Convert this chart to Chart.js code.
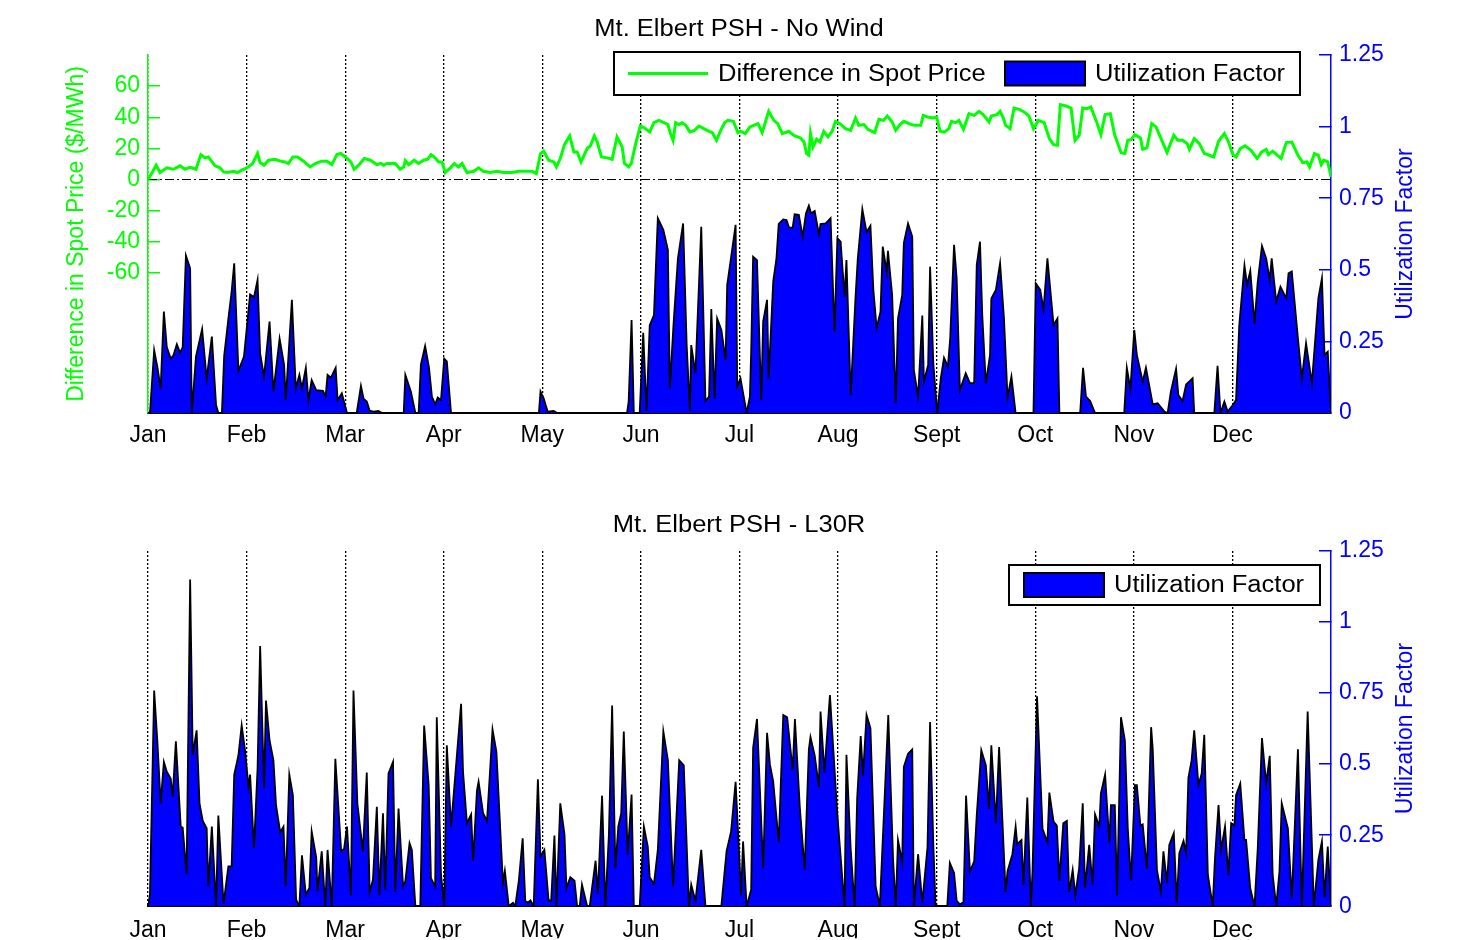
<!DOCTYPE html>
<html>
<head>
<meta charset="utf-8">
<script src="https://cdn.jsdelivr.net/npm/chart.js@4.4.1/dist/chart.umd.min.js"></script>
<style>
    html, body { margin: 0; padding: 0; background: #fff; }
    body { width: 1479px; height: 940px; position: relative; overflow: hidden; }
    .panel { position: absolute; left: 0; width: 1479px; height: 470px; }
    #topPanel { top: 0; }
    #bottomPanel { top: 470px; }
</style>
</head>
<body>
<div class="panel" id="topPanel"><canvas id="topChart" width="1479" height="470"></canvas></div>
<div class="panel" id="bottomPanel"><canvas id="bottomChart" width="1479" height="470"></canvas></div>
<script>
// Axis labels / ticks
const months = ['Jan', 'Feb', 'Mar', 'Apr', 'May', 'Jun', 'Jul', 'Aug', 'Sept', 'Oct', 'Nov', 'Dec'];
const daysInYear = 365;
const priceTicks = [-60, -40, -20, 0, 20, 40, 60];
const ufTicks = [0, 0.25, 0.5, 0.75, 1, 1.25];

// Mt. Elbert PSH - No Wind : utilization factor, [day of year, value]
const noWindUtilization = [
    [0, 0], [0.6, 0], [1.9, 0.22], [2.9, 0.16], [3.9, 0.086], [4.9, 0.354], [5.8, 0.23], [7.0, 0.19], [7.8, 0.2],
    [8.9, 0.24], [9.9, 0.21], [10.7, 0.23], [11.7, 0.55], [13.0, 0.505], [13.5, 0], [14.8, 0.197], [16.7, 0.293],
    [18.1, 0.12], [19.7, 0.267], [21.0, 0.028], [21.7, 0], [22.8, 0], [23.5, 0.2], [24.8, 0.33], [25.8, 0.424],
    [26.6, 0.523], [27.9, 0.147], [29.6, 0.197], [31.5, 0.414], [32.7, 0.404], [33.8, 0.464], [34.6, 0.208],
    [35.8, 0.127], [37.5, 0.319], [38.7, 0.075], [40.6, 0.26], [42.0, 0.168], [42.5, 0.045], [44.4, 0.395],
    [45.6, 0.086], [46.7, 0.133], [47.5, 0.086], [48.7, 0.158], [49.5, 0.045], [50.5, 0.115], [51.9, 0.08],
    [54.0, 0.077], [54.8, 0.057], [55.4, 0.133], [56.4, 0.123], [57.9, 0.158], [58.5, 0.045], [59.8, 0.069],
    [61.4, 0], [64.4, 0], [65.7, 0.095], [66.5, 0.05], [67.5, 0.04], [68.4, 0.008], [69.6, 0.005], [71.1, 0.007],
    [72.2, 0], [78.9, 0], [79.4, 0.133], [81.1, 0.075], [82.5, 0], [83.5, 0], [84.2, 0.17], [85.5, 0.234],
    [86.7, 0.158], [87.6, 0.057], [88.6, 0.03], [89.4, 0.054], [90.4, 0.045], [91.4, 0.19], [92.2, 0.18], [93.5, 0],
    [120.6, 0], [121.1, 0.075], [122.1, 0.05], [123.3, 0.005], [125.2, 0.007], [126.2, 0], [147.8, 0], [148.3, 0.04],
    [149.2, 0.325], [149.9, 0], [151.7, 0], [152.8, 0.28], [153.8, 0.007], [154.8, 0.307], [156.1, 0.342],
    [157.3, 0.68], [159.0, 0.64], [160.4, 0.57], [161.0, 0.086], [162.2, 0.32], [163.5, 0.54], [165.1, 0.662],
    [166.2, 0.237], [167.2, 0.007], [167.6, 0.237], [168.9, 0.139], [170.7, 0.65], [172.0, 0.042], [173.1, 0.057],
    [173.8, 0.363], [174.8, 0.05], [175.6, 0.33], [176.9, 0.29], [178.2, 0.185], [178.7, 0.447], [181.3, 0.657],
    [181.8, 0.092], [182.8, 0.121], [184.7, 0], [185.7, 0.057], [186.1, 0.214], [186.7, 0.546], [187.9, 0.534],
    [189.2, 0.045], [189.8, 0.319], [191.0, 0.395], [191.5, 0.121], [192.9, 0.459], [193.9, 0.54], [194.6, 0.66],
    [196.0, 0.676], [197.0, 0.674], [197.8, 0.647], [198.9, 0.647], [199.5, 0.694], [200.8, 0.692], [202.0, 0.616],
    [203.0, 0.697], [203.9, 0.724], [204.6, 0.697], [205.7, 0.705], [207.0, 0.624], [207.5, 0.66], [209.1, 0.662],
    [210.6, 0.68], [211.8, 0.284], [212.7, 0.61], [213.7, 0.598], [214.9, 0.406], [215.5, 0.534], [216.8, 0.063],
    [218.3, 0.406], [219.0, 0.54], [220.4, 0.712], [221.7, 0.631], [222.9, 0.654], [223.8, 0.43], [224.8, 0.298],
    [226.0, 0.354], [226.7, 0.581], [227.9, 0.494], [228.3, 0.566], [229.6, 0.412], [230.7, 0.034], [231.4, 0.33],
    [232.7, 0.412], [233.2, 0.593], [234.5, 0.662], [235.8, 0.616], [236.3, 0.15], [237.6, 0.057], [238.9, 0.34],
    [239.4, 0.109], [240.7, 0.168], [241.3, 0.511], [242.3, 0.173], [243.5, 0], [244.6, 0.121], [245.6, 0.193],
    [246.8, 0.162], [247.5, 0.26], [248.7, 0.587], [249.5, 0.47], [250.5, 0.08], [252.3, 0.139], [253.6, 0.104],
    [254.9, 0.104], [255.7, 0.517], [256.7, 0.598], [257.4, 0.342], [258.5, 0.104], [259.8, 0.203], [260.2, 0.4],
    [261.6, 0.43], [262.9, 0.523], [264.1, 0.33], [265.2, 0.054], [266.4, 0.127], [267.7, 0], [273.2, 0],
    [273.9, 0.453], [275.3, 0.43], [276.3, 0.36], [277.5, 0.54], [279.4, 0.307], [280.6, 0.33], [281.2, 0],
    [287.6, 0], [288.5, 0.158], [289.4, 0.057], [290.7, 0.042], [292.2, 0], [301.2, 0], [302.0, 0.158],
    [303.1, 0.084], [304.3, 0.29], [305.1, 0.203], [306.9, 0.109], [307.9, 0.158], [310.0, 0.03], [311.5, 0.034],
    [312.8, 0.016], [313.6, 0.005], [314.6, 0], [315.6, 0.075], [317.2, 0.154], [317.9, 0.063], [319.2, 0.042],
    [320.3, 0.1], [322.3, 0.121], [322.8, 0], [329.0, 0], [330.0, 0.165], [330.9, 0], [332.1, 0.04], [333.1, 0.005],
    [334.7, 0.028], [335.7, 0.045], [336.7, 0.307], [338.3, 0.515], [339.1, 0.447], [340.1, 0.496], [341.4, 0.313],
    [342.4, 0.459], [343.7, 0.584], [345.0, 0.54], [346.1, 0.464], [346.7, 0.54], [348.1, 0.389], [349.4, 0.441],
    [351.2, 0.4], [351.9, 0.488], [352.9, 0.494], [354.8, 0.26], [356.0, 0.121], [357.3, 0.243], [359.1, 0.104],
    [361.1, 0.4], [362.2, 0.47], [363.0, 0.203], [364.0, 0.214], [365, 0]
];

// Difference in spot price ($/MWh), [day of year, value]
const spotPriceDiff = [
    [0, 0], [1.1, 3.8], [2.5, 9.2], [3.7, 4.5], [5.8, 7.5], [7.8, 6.6], [9.9, 8.8], [11.4, 6.6], [13.0, 7.9],
    [14.8, 6.6], [16.3, 16], [17.6, 13.9], [18.6, 14.5], [20.7, 8.8], [22.2, 7.5], [23.3, 4.9], [24.5, 4.5],
    [26.4, 5.3], [27.6, 4.5], [28.9, 6.0], [30.5, 7.5], [32.3, 10.3], [33.8, 16.7], [34.6, 10.9], [35.8, 9.2],
    [37.2, 12.4], [39.2, 13.0], [40.8, 11.8], [42.3, 11.3], [43.3, 10.3], [44.7, 14.5], [46.1, 14.5], [48.0, 11.8],
    [50.0, 8.1], [51.6, 10.3], [53.6, 11.8], [55.2, 11.8], [56.7, 9.6], [58.3, 16], [59.5, 16.7], [61.4, 13.5],
    [62.6, 11.3], [63.6, 6.6], [65.0, 9.2], [66.7, 13.5], [68.6, 12.4], [70.6, 9.6], [71.9, 10.3], [72.7, 9.2],
    [73.7, 10.3], [76.3, 10.3], [77.8, 6.6], [78.9, 8.1], [79.4, 12.2], [80.4, 9.6], [82.1, 12.4], [83.5, 10.3],
    [85.0, 12.4], [86.3, 13.0], [87.3, 16], [88.6, 13.9], [89.7, 11.3], [90.7, 11.3], [91.7, 4.5], [93.3, 7.5],
    [94.5, 10.3], [95.8, 8.1], [96.9, 10.3], [98.4, 4.5], [100.5, 5.3], [102.0, 7.5], [103.4, 5.3], [105.6, 4.5],
    [107.7, 5.3], [109.7, 4.5], [112.3, 4.5], [114.4, 5.3], [118.5, 5.3], [119.8, 3.8], [121.1, 16.7], [122.1, 18.2],
    [123.6, 12.4], [125.2, 11.3], [126.0, 8.1], [127.2, 13.5], [128.5, 22.4], [130.1, 28], [131.4, 17.7],
    [132.4, 17.7], [133.6, 11.3], [135.5, 19.9], [136.5, 21.6], [137.7, 28], [138.6, 24.1], [139.9, 14.5],
    [141.7, 13.9], [143.2, 13.0], [144.7, 27.4], [146.3, 20.9], [147.0, 10.3], [148.3, 8.1], [149.1, 10.3],
    [150.4, 22.4], [151.9, 34.4], [153.2, 33.1], [154.8, 30.6], [156.1, 36.5], [157.6, 38], [159.2, 36.5],
    [160.4, 35.3], [161.2, 29.5], [162.0, 25.2], [162.8, 36.5], [163.8, 35.3], [164.8, 36.5], [165.9, 34.8],
    [167.2, 30.6], [168.6, 31.6], [170.0, 34.4], [171.5, 32.7], [172.5, 31.6], [174.1, 30.1], [175.4, 25.2],
    [176.7, 31.6], [177.9, 36.5], [178.9, 38], [180.6, 37.4], [182.0, 30.1], [182.8, 31], [184.3, 29.5],
    [185.7, 33.8], [186.9, 34.8], [188.2, 35.9], [189.5, 30.1], [191.5, 43.8], [193.1, 38], [194.3, 35.9],
    [195.7, 29.5], [197.7, 31], [199.3, 28.4], [201.3, 26.7], [202.4, 24.1], [203.2, 16.7], [203.9, 15.6],
    [204.4, 29.5], [205.2, 20.9], [206.3, 25.9], [207.3, 24.1], [208.5, 31], [209.8, 27.4], [211.1, 31],
    [212.1, 37.4], [213.5, 35.9], [215.2, 32.7], [216.8, 31.6], [218.3, 39.5], [219.3, 34.8], [220.9, 35.3],
    [222.1, 32.3], [224.2, 30.1], [225.5, 38.7], [226.9, 38], [228.1, 40.8], [229.6, 37], [230.7, 31.6],
    [232.0, 35.3], [233.2, 37.4], [234.8, 35.9], [236.3, 34.8], [238.4, 34.8], [239.2, 41.2], [240.5, 40.2],
    [242.3, 39.5], [243.3, 40.2], [244.4, 31], [245.8, 30.6], [247.1, 32.7], [247.9, 37.4], [249.2, 36.5],
    [250.2, 38], [251.6, 32.3], [253.3, 42.3], [254.9, 41.2], [256.4, 43.8], [257.7, 41.7], [259.5, 37],
    [260.2, 40.8], [261.9, 41.7], [262.9, 43.8], [263.9, 39.5], [264.6, 34.8], [266.0, 32.7], [267.2, 45.9],
    [268.8, 45.1], [270.3, 43.4], [271.8, 40.8], [273.2, 32.7], [274.7, 38], [276.5, 36.5], [278.1, 26.3],
    [279.4, 22.4], [280.6, 22], [281.5, 48.1], [283.2, 47.2], [284.8, 45.9], [286.0, 25.2], [287.3, 28.4],
    [288.4, 45.9], [289.7, 45.5], [290.9, 46.6], [292.5, 38], [294.0, 28.8], [295.3, 41.7], [296.9, 42.3],
    [298.3, 28.4], [300.2, 17.3], [301.4, 16.7], [302.3, 25.2], [303.3, 25.6], [304.5, 28.8], [306.2, 26.7],
    [306.9, 19.4], [308.2, 20.3], [309.7, 35.9], [311.0, 33.8], [312.8, 25.2], [314.4, 17.3], [316.5, 28.4],
    [317.7, 25.2], [319.2, 25.2], [320.6, 23.1], [321.3, 19.4], [322.8, 26.3], [324.4, 23.1], [325.9, 16.7],
    [327.5, 15.6], [328.8, 14.5], [330.3, 24.6], [332.1, 29.5], [333.3, 24.6], [334.7, 16], [335.7, 14.5],
    [337.0, 19.9], [338.5, 21.6], [340.3, 18.8], [342.2, 13.5], [343.6, 17.7], [345.0, 19.4], [345.7, 16],
    [347.0, 18.2], [348.4, 15.6], [349.6, 13.5], [351.2, 23.7], [352.9, 24.1], [354.8, 15.6], [356.3, 10.9],
    [357.6, 11.3], [358.4, 8.1], [359.9, 16.7], [361.1, 15.6], [362.0, 9.6], [362.8, 12.4], [364.0, 11.3], [365, 1.7]
];

// Mt. Elbert PSH - L30R : utilization factor, [day of year, value]
const l30rUtilization = [
    [0, 0], [0.6, 0.04], [1.9, 0.759], [2.9, 0.578], [3.9, 0.362], [4.9, 0.508], [5.8, 0.473], [7.0, 0.449],
    [7.6, 0.385], [8.6, 0.58], [10.1, 0.28], [10.7, 0.277], [11.9, 0.113], [13.0, 1.15], [13.8, 0.533], [15.0, 0.619],
    [15.9, 0.362], [16.9, 0.3], [18.1, 0.274], [18.6, 0.07], [19.7, 0.28], [21.0, 0], [21.7, 0.319], [23.3, 0.008],
    [24.8, 0.14], [25.8, 0.14], [26.6, 0.463], [27.9, 0.531], [28.9, 0.636], [30.0, 0.543], [31.0, 0.42],
    [31.5, 0.463], [32.7, 0.204], [33.8, 0.484], [34.6, 0.916], [35.8, 0.414], [36.4, 0.724], [37.5, 0.584],
    [38.7, 0.514], [39.5, 0.356], [40.8, 0.26], [41.8, 0.28], [42.5, 0.07], [43.6, 0.463], [44.7, 0.391],
    [45.7, 0.023], [46.7, 0], [47.5, 0.179], [48.7, 0.041], [49.8, 0.064], [50.5, 0.263], [51.9, 0.172],
    [52.3, 0.053], [53.6, 0.193], [54.7, 0], [55.4, 0.198], [56.7, 0], [57.8, 0.519], [59.6, 0.193], [60.5, 0.202],
    [61.4, 0.28], [62.6, 0.039], [63.4, 0.759], [64.6, 0.362], [66.3, 0.193], [67.5, 0.47], [68.4, 0.05],
    [69.4, 0.093], [70.6, 0.35], [71.4, 0.039], [72.5, 0.327], [73.2, 0.058], [74.2, 0.467], [75.6, 0.508],
    [76.3, 0.05], [77.3, 0.344], [78.7, 0.07], [79.4, 0.088], [80.7, 0.222], [81.4, 0.198], [82.5, 0], [84.0, 0],
    [85.2, 0.636], [86.6, 0.426], [87.3, 0.099], [88.6, 0.07], [89.1, 0.665], [90.4, 0.111], [91.4, 0],
    [92.2, 0.566], [93.5, 0.28], [94.8, 0.461], [96.6, 0.712], [97.2, 0.473], [98.4, 0.292], [99.7, 0.323],
    [100.3, 0.16], [101.5, 0.408], [102.0, 0.438], [103.4, 0.327], [104.6, 0.3], [106.3, 0.622], [107.5, 0.543],
    [109.5, 0.082], [110.1, 0.125], [111.3, 0], [112.6, 0.012], [113.3, 0], [114.4, 0.088], [115.6, 0.239],
    [116.4, 0.018], [117.2, 0.012], [118.0, 0.02], [119.0, 0], [120.3, 0.447], [121.1, 0.175], [122.3, 0.198],
    [123.6, 0.02], [124.4, 0.02], [125.4, 0.249], [126.0, 0], [127.2, 0.362], [128.5, 0.253], [129.1, 0.064],
    [130.3, 0.102], [131.6, 0.09], [132.4, 0], [133.2, 0], [133.9, 0.076], [135.5, 0], [136.3, 0], [137.0, 0.064],
    [138.1, 0.16], [138.8, 0.043], [140.1, 0.389], [141.1, 0], [142.2, 0.251], [143.2, 0.706], [144.2, 0.134],
    [145.1, 0.28], [146.0, 0.327], [146.8, 0.615], [148.0, 0.181], [149.2, 0.393], [149.9, 0], [151.7, 0],
    [153.0, 0.28], [154.2, 0.21], [154.8, 0.102], [156.1, 0.078], [157.3, 0.198], [159.0, 0.615], [160.4, 0.514],
    [162.0, 0.07], [162.8, 0.257], [163.9, 0.514], [165.3, 0.496], [166.9, 0], [167.6, 0.076], [168.9, 0.018],
    [170.7, 0.198], [172.0, 0], [176.9, 0], [178.5, 0.193], [179.9, 0.263], [181.3, 0.438], [183.0, 0.039],
    [183.6, 0.228], [184.7, 0], [186.1, 0.058], [186.7, 0.557], [187.9, 0.659], [189.8, 0.134], [191.0, 0.61],
    [191.9, 0.498], [192.9, 0.438], [194.6, 0.225], [196.0, 0.673], [197.2, 0.665], [198.9, 0.479], [199.6, 0.659],
    [201.1, 0.35], [202.6, 0.128], [203.9, 0.552], [204.4, 0.595], [205.7, 0.531], [207.0, 0.42], [207.5, 0.685],
    [208.7, 0.47], [210.4, 0.743], [212.7, 0.321], [214.9, 0], [215.5, 0.533], [216.8, 0.204], [218.0, 0],
    [218.8, 0.379], [219.9, 0.599], [220.6, 0.459], [221.7, 0.673], [222.9, 0.627], [224.5, 0.07], [225.8, 0],
    [228.4, 0.673], [229.9, 0.16], [230.7, 0], [231.4, 0.233], [232.7, 0.155], [233.2, 0.49], [234.5, 0.537],
    [235.8, 0.552], [236.3, 0], [237.6, 0.183], [238.9, 0.012], [240.5, 0.207], [241.3, 0.648], [242.3, 0.216],
    [243.0, 0], [246.6, 0], [247.4, 0.152], [248.7, 0.117], [249.5, 0.02], [250.5, 0.006], [251.6, 0.015],
    [252.4, 0.389], [253.6, 0.123], [254.9, 0.158], [255.7, 0.321], [257.1, 0.549], [258.5, 0.496], [259.5, 0.342],
    [260.2, 0.566], [261.6, 0.292], [262.6, 0.56], [264.6, 0.05], [265.2, 0.123], [266.7, 0.183], [267.7, 0.28],
    [268.2, 0.218], [269.5, 0.233], [270.1, 0.076], [271.3, 0.382], [272.4, 0], [272.9, 0.123], [274.3, 0.739],
    [276.0, 0.272], [277.5, 0.225], [278.1, 0.4], [279.4, 0.298], [280.4, 0.284], [281.2, 0.09], [282.4, 0.292],
    [283.5, 0.3], [284.2, 0.05], [285.3, 0.128], [286.1, 0.039], [287.3, 0.134], [288.4, 0.362], [289.1, 0.064],
    [290.4, 0.216], [291.4, 0.076], [292.2, 0.323], [293.5, 0.28], [294.0, 0.397], [295.3, 0.463], [296.6, 0.225],
    [297.1, 0.356], [298.3, 0.356], [299.0, 0.039], [300.2, 0.665], [301.4, 0.584], [302.3, 0.274], [303.3, 0.09],
    [304.5, 0.426], [305.1, 0.426], [306.2, 0.284], [306.9, 0.288], [308.2, 0.132], [309.5, 0.63], [310.0, 0.554],
    [311.3, 0.128], [312.5, 0.05], [313.3, 0.193], [314.4, 0.082], [315.1, 0.216], [316.5, 0.257], [317.4, 0.012],
    [318.2, 0.187], [319.5, 0.23], [320.3, 0.187], [321.0, 0.452], [322.0, 0.514], [322.8, 0.619], [324.1, 0.426],
    [325.1, 0.467], [325.9, 0.603], [327.0, 0.111], [328.5, 0], [329.2, 0.169], [330.3, 0.356], [331.1, 0.198],
    [332.3, 0.28], [333.3, 0.109], [334.2, 0.292], [335.2, 0.284], [335.7, 0.391], [337.0, 0.432], [338.3, 0.233],
    [338.8, 0.233], [340.1, 0.062], [341.4, 0], [342.4, 0.204], [343.7, 0.592], [345.0, 0.432], [346.1, 0.529],
    [347.0, 0.111], [348.1, 0], [349.1, 0.123], [349.8, 0.362], [351.7, 0.274], [352.9, 0.027], [354.8, 0.552],
    [356.0, 0], [357.8, 0.685], [359.7, 0], [361.1, 0.163], [362.2, 0.228], [363.0, 0.032], [364.0, 0.21], [365, 0]
];

const FONT = '"Liberation Sans", Arial, Helvetica, sans-serif';
const GREEN = '#00ff00';
const BLUE = '#0000ff';
const TEXT_STRETCH = 1.11; // original figure text is a bit wider than tall

const monthTicks = months.map((m, i) => i * daysInYear / 12);
const toPoints = arr => arr.map(([x, y]) => ({ x, y }));

function stretchedText(ctx, text, x, y, align, size, color) {
    ctx.save();
    ctx.font = `${size}px ${FONT}`;
    ctx.fillStyle = color;
    ctx.textAlign = align;
    ctx.textBaseline = 'middle';
    ctx.translate(x, y);
    ctx.scale(TEXT_STRETCH, 1);
    ctx.fillText(text, 0, 0);
    ctx.restore();
}

function xAxis(height, pad) {
    return {
        type: 'linear', min: 0, max: daysInYear,
        afterBuildTicks: s => { s.ticks = monthTicks.map(v => ({ value: v })); },
        afterFit: s => { s.height = height; },
        grid: { color: '#000', lineWidth: 1.3, drawTicks: false },
        border: { color: '#000', width: 2, dash: [2, 2] },
        ticks: {
            color: '#000', font: { family: FONT, size: 23 }, padding: pad,
            maxRotation: 0, autoSkip: false,
            callback: (v, i) => months[i]
        }
    };
}

function ufAxis() {
    return {
        position: 'right', min: 0, max: 1.25,
        afterBuildTicks: s => { s.ticks = ufTicks.map(v => ({ value: v })); },
        afterFit: s => { s.width = 148; },
        grid: { drawOnChartArea: false, color: BLUE, tickLength: -12, lineWidth: 1.5 },
        border: { color: BLUE, width: 1.5 },
        ticks: { color: BLUE, font: { family: FONT, size: 23 }, padding: 20, callback: v => String(v) }
    };
}

// titles, legend box and right axis title
function decorPlugin(cfg) {
    return {
        id: 'decor',
        afterDraw(chart) {
            const ctx = chart.ctx;
            const area = chart.chartArea;
            stretchedText(ctx, cfg.title, 739, cfg.titleY, 'center', 23, '#000');

            // right axis title, rotated
            ctx.save();
            ctx.font = `23px ${FONT}`;
            ctx.fillStyle = BLUE;
            ctx.textAlign = 'center';
            ctx.textBaseline = 'middle';
            ctx.translate(1406, (area.top + area.bottom) / 2);
            ctx.rotate(-Math.PI / 2);
            ctx.fillText('Utilization Factor', 0, 0);
            ctx.restore();

            // legend
            const lg = cfg.legend;
            ctx.save();
            ctx.fillStyle = '#fff';
            ctx.fillRect(lg.x, lg.y, lg.w, lg.h);
            ctx.strokeStyle = '#000';
            ctx.lineWidth = 2;
            ctx.strokeRect(lg.x, lg.y, lg.w, lg.h);
            const cy = lg.y + lg.h / 2;
            lg.items.forEach(item => {
                const ds = chart.data.datasets[item.dataset];
                if (item.kind === 'line') {
                    ctx.strokeStyle = ds.borderColor;
                    ctx.lineWidth = ds.borderWidth;
                    ctx.beginPath();
                    ctx.moveTo(item.x, cy);
                    ctx.lineTo(item.x + 80, cy);
                    ctx.stroke();
                } else {
                    ctx.fillStyle = ds.backgroundColor;
                    ctx.fillRect(item.x, cy - 12, 80, 24);
                    ctx.strokeStyle = '#000';
                    ctx.lineWidth = 2;
                    ctx.strokeRect(item.x, cy - 12, 80, 24);
                }
                stretchedText(ctx, ds.label, item.x + 90, cy + 1, 'left', 23, '#000');
            });
            ctx.restore();
        }
    };
}

const baseOptions = {
    responsive: false,
    animation: false,
    events: [],
    elements: { point: { radius: 0 }, line: { tension: 0 } }
};

// top panel: No Wind
new Chart(document.getElementById('topChart'), {
    type: 'line',
    data: {
        datasets: [
            {
                label: 'Difference in Spot Price', data: toPoints(spotPriceDiff), yAxisID: 'yPrice',
                borderColor: GREEN, borderWidth: 3, fill: false
            },
            {
                label: 'zero', data: [{ x: 0, y: 0 }, { x: daysInYear, y: 0 }], yAxisID: 'yPrice',
                borderColor: '#000', borderWidth: 1, borderDash: [9, 3, 2, 3], fill: false
            },
            {
                label: 'Utilization Factor', data: toPoints(noWindUtilization), yAxisID: 'yUf',
                borderColor: '#000', borderWidth: 1.8, backgroundColor: BLUE, fill: 'origin'
            }
        ]
    },
    options: {
        ...baseOptions,
        layout: { padding: { top: 55, left: 0, right: 0, bottom: 0 } },
        scales: {
            x: xAxis(57, 9),
            yPrice: {
                position: 'left', min: -150, max: 80,
                afterBuildTicks: s => { s.ticks = priceTicks.map(v => ({ value: v })); },
                afterFit: s => { s.width = 148; },
                grid: { drawOnChartArea: false, color: GREEN, tickLength: -12, lineWidth: 1.5 },
                border: { color: GREEN, width: 1.5 },
                ticks: { color: GREEN, font: { family: FONT, size: 23 }, padding: 20, callback: v => String(v) },
                title: {
                    display: true, text: 'Difference in Spot Price ($/MWh)', color: GREEN,
                    font: { family: FONT, size: 23 }, padding: { top: 63, bottom: 0 }
                }
            },
            yUf: ufAxis()
        },
        plugins: { legend: { display: false }, tooltip: { enabled: false } }
    },
    plugins: [decorPlugin({
        title: 'Mt. Elbert PSH - No Wind', titleY: 30,
        legend: {
            x: 614, y: 52, w: 686, h: 43,
            items: [{ dataset: 0, kind: 'line', x: 628 }, { dataset: 2, kind: 'patch', x: 1005 }]
        }
    })]
});

// bottom panel: L30R
new Chart(document.getElementById('bottomChart'), {
    type: 'line',
    data: {
        datasets: [
            {
                label: 'Utilization Factor', data: toPoints(l30rUtilization), yAxisID: 'yUf',
                borderColor: '#000', borderWidth: 1.8, backgroundColor: BLUE, fill: 'origin'
            }
        ]
    },
    options: {
        ...baseOptions,
        layout: { padding: { top: 81, left: 148, right: 0, bottom: 0 } },
        scales: {
            x: xAxis(32, 11),
            yUf: ufAxis()
        },
        plugins: { legend: { display: false }, tooltip: { enabled: false } }
    },
    plugins: [decorPlugin({
        title: 'Mt. Elbert PSH - L30R', titleY: 56,
        legend: {
            x: 1009, y: 95, w: 311, h: 40,
            items: [{ dataset: 0, kind: 'patch', x: 1024 }]
        }
    })]
});
</script>
</body>
</html>
